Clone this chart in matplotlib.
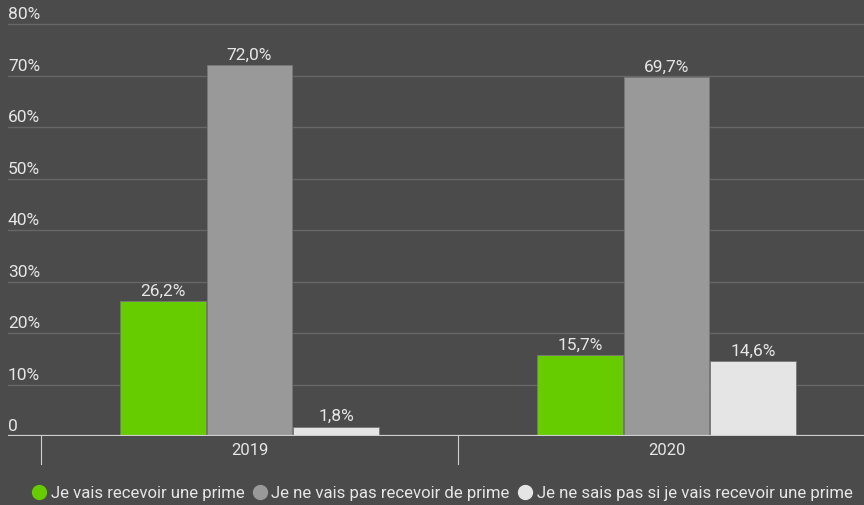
import matplotlib.pyplot as plt
from matplotlib.lines import Line2D
from matplotlib.transforms import blended_transform_factory

plt.rcParams['font.family'] = ['Roboto', 'DejaVu Sans']

years = ['2019', '2020']
series_names = [
    'Je vais recevoir une prime',
    'Je ne vais pas recevoir de prime',
    'Je ne sais pas si je vais recevoir une prime',
]
recoit = [26.2, 15.7]
recoit_pas = [72.0, 69.7]
ne_sait_pas = [1.8, 14.6]
y_ticks = [0, 10, 20, 30, 40, 50, 60, 70, 80]

bg = '#4b4b4b'
txt = '#e6e6e6'
colors = ['#66cc00', '#999999', '#e5e5e5']

fig = plt.figure(figsize=(8.64, 5.06), dpi=100, facecolor=bg)
ax = fig.add_axes([8 / 864, 69 / 506, 856 / 864, 437 / 506])
ax.set_facecolor(bg)

# scale: 0% at baseline, 80% gridline 412 px higher
ax.set_ylim(0, 80 * 437 / 412)
ax.set_xlim(-0.5 - 33 / 417, 1.5 - 11 / 417)

width = 0.204
offset = 0.2075
for i, (vals, col) in enumerate(zip([recoit, recoit_pas, ne_sait_pas], colors)):
    xs = [k + (i - 1) * offset for k in range(len(years))]
    bars = ax.bar(xs, vals, width=width, color=col, edgecolor='#777777',
                  linewidth=0.6, zorder=3)
    for b, v in zip(bars, vals):
        ax.annotate(f'{v:.1f}%'.replace('.', ','),
                    (b.get_x() + b.get_width() / 2, v),
                    xytext=(0, 2.5), textcoords='offset points',
                    ha='center', va='bottom', color=txt, fontsize=12.5)

# gridlines and y labels
tr = blended_transform_factory(ax.transAxes, ax.transData)
for t in y_ticks[1:]:
    ax.axhline(t, color='#666666', linewidth=1, zorder=1)
for t in y_ticks:
    lab = '0' if t == 0 else f'{t}%'
    ax.text(0, t + 0.5, lab, transform=tr, ha='left', va='bottom',
            color=txt, fontsize=12.5)

ax.axhline(0, color='#cfcfcf', linewidth=1.6, zorder=4)

for s in ax.spines.values():
    s.set_visible(False)
ax.set_xticks([])
ax.set_yticks([])

# category separators and labels below the axis
for x in [-0.5, 0.5, 1.5]:
    ax.plot([x, x], [0, -28 / 5.15], color='#cfcfcf', linewidth=0.8,
            clip_on=False, zorder=4)
for k, y in enumerate(years):
    ax.text(k, -14 / 5.15, y, ha='center', va='center', color=txt,
            fontsize=12, clip_on=False)

handles = [Line2D([], [], marker='o', linestyle='', markersize=10,
                  markerfacecolor=c, markeredgecolor=c) for c in colors]
fig.legend(handles, series_names, loc='center', bbox_to_anchor=(0.51, 12 / 506),
           ncol=3, frameon=False, labelcolor=txt, fontsize=12.1,
           handletextpad=0.1, columnspacing=0.3, handlelength=1.2)

fig.savefig('out.png', dpi=100, facecolor=bg)
